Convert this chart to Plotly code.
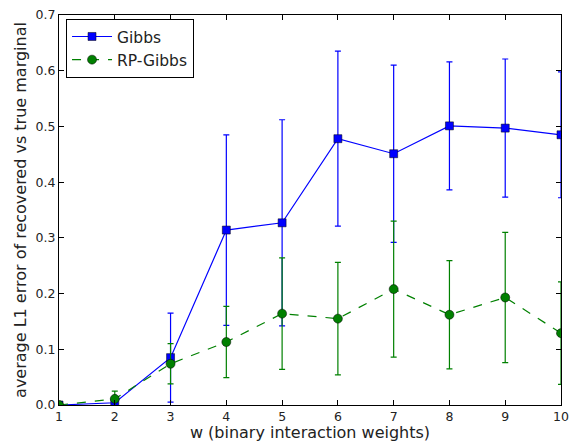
import plotly.graph_objects as go

w = [1, 2, 3, 4, 5, 6, 7, 8, 9, 10]
gibbs = [0.0, 0.004, 0.085, 0.314, 0.327, 0.478, 0.451, 0.501, 0.497, 0.485]
gibbs_err = [0.0, 0.003, 0.080, 0.171, 0.185, 0.157, 0.159, 0.115, 0.124, 0.113]
rp = [0.0, 0.011, 0.074, 0.113, 0.164, 0.155, 0.208, 0.162, 0.193, 0.129]
rp_err = [0.0, 0.014, 0.036, 0.064, 0.100, 0.101, 0.122, 0.097, 0.117, 0.092]
xticks = [1, 2, 3, 4, 5, 6, 7, 8, 9, 10]
yticks = [0.0, 0.1, 0.2, 0.3, 0.4, 0.5, 0.6, 0.7]

fig = go.Figure()
fig.add_trace(go.Scatter(
    x=w, y=gibbs, name="Gibbs", mode="lines+markers",
    line=dict(color="#0000ff", width=1.2),
    marker=dict(symbol="square", size=8, color="#0000ff", line=dict(color="#000000", width=0.5)),
    error_y=dict(type="data", array=gibbs_err, visible=True, color="#0000ff", thickness=1.2, width=3),
))
fig.add_trace(go.Scatter(
    x=w, y=rp, name="RP-Gibbs", mode="lines+markers",
    line=dict(color="#008000", width=1.2, dash="dash"),
    marker=dict(symbol="circle", size=9, color="#008000", line=dict(color="#000000", width=0.5)),
    error_y=dict(type="data", array=rp_err, visible=True, color="#008000", thickness=1.2, width=3),
))

axis_common = dict(
    showgrid=False, zeroline=False, ticks="inside", ticklen=5, tickwidth=1,
    tickcolor="#000000", showline=True, linecolor="#000000", linewidth=1.2, mirror="ticks",
    tickfont=dict(family="DejaVu Sans", size=12.5, color="#222222"),
    automargin=False,
)
fig.update_xaxes(range=[1, 10], tickvals=xticks, ticktext=[str(v) for v in xticks],
                 title=dict(text="w (binary interaction weights)", font=dict(family="DejaVu Sans", size=16, color="#222222"), standoff=2),
                 **axis_common)
fig.update_yaxes(range=[0, 0.7], tickvals=yticks, ticktext=[f"{v:.1f}" for v in yticks],
                 title=dict(text="average L1 error of recovered vs true marginal", font=dict(family="DejaVu Sans", size=16, color="#222222"), standoff=4),
                 **axis_common)

fig.update_layout(
    width=571, height=442,
    margin=dict(l=59, r=10, t=15, b=37),
    paper_bgcolor="#ffffff", plot_bgcolor="#ffffff",
    showlegend=True,
    legend=dict(x=0.014, y=0.99, xanchor="left", yanchor="top",
                bordercolor="#000000", borderwidth=1, bgcolor="#ffffff",
                font=dict(family="DejaVu Sans", size=15.5, color="#222222"),
                itemwidth=40, tracegroupgap=0),
)

fig.write_html("out.html")
